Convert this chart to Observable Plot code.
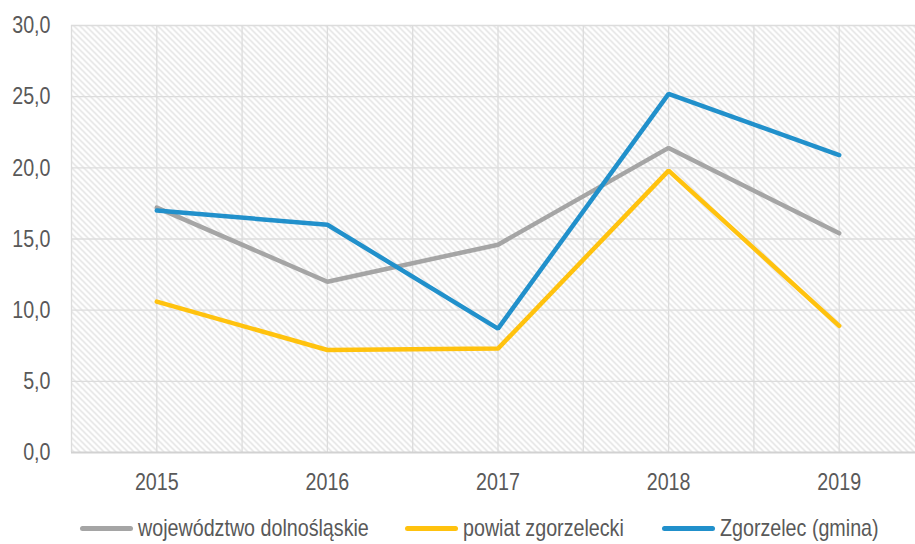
<!DOCTYPE html>
<html>
<head>
<meta charset="utf-8">
<script src="https://cdn.jsdelivr.net/npm/d3@7"></script>
<script src="https://cdn.jsdelivr.net/npm/@observablehq/plot@0.6"></script>
<style>
  html, body { margin: 0; padding: 0; background: #fff; overflow: hidden; width: 915px; height: 544px; }
  #wrap { position: relative; width: 915px; height: 544px; overflow: hidden; font-family: "Liberation Sans", Arial, sans-serif; }
  #chart { width: 924px; }
  #legend { position: absolute; top: 514px; left: 0; width: 915px; height: 30px; font-size: 24px; color: #595959; }
  .item { position: absolute; top: 0; display: flex; align-items: center; height: 28px; white-space: nowrap; }
  .sw { width: 53px; height: 5px; border-radius: 3px; margin-right: 5px; flex: none; }
  .tx { display: inline-block; transform: scaleX(0.82); transform-origin: left center; }
</style>
</head>
<body>
<div id="wrap">
  <div id="chart"></div>
  <div id="legend"></div>
</div>
<script>
const years = [2015, 2016, 2017, 2018, 2019];
const seriesNames = ["województwo dolnośląskie", "powiat zgorzelecki", "Zgorzelec (gmina)"];
const wojewodztwo = [17.2, 12.0, 14.6, 21.4, 15.4];
const powiat = [10.6, 7.2, 7.3, 19.8, 8.9];
const gmina = [17.0, 16.0, 8.7, 25.2, 20.9];
const colors = ["#a5a5a5", "#ffc20e", "#2190cb"];
const yTicks = [0, 5, 10, 15, 20, 25, 30];

const seriesValues = [wojewodztwo, powiat, gmina];
const data = [];
seriesNames.forEach((name, i) => {
  years.forEach((yr, j) => data.push({series: name, year: yr, value: seriesValues[i][j]}));
});

const halfSteps = d3.range(years[0] - 0.5, years[years.length - 1] + 0.51, 0.5);

const plot = Plot.plot({
  width: 924,
  height: 500,
  marginLeft: 71,
  marginRight: 0,
  marginTop: 25,
  marginBottom: 48,
  style: {fontFamily: '"Liberation Sans", Arial, sans-serif', fontSize: "24px", color: "#595959", background: "transparent", overflow: "visible"},
  x: {domain: [years[0] - 0.5, years[years.length - 1] + 0.5], label: null},
  y: {domain: [0, 30], label: null},
  color: {domain: seriesNames, range: colors},
  marks: [
    Plot.frame({fill: "url(#hatch)", stroke: null}),
    Plot.ruleX(halfSteps, {stroke: "#dcdcdc", strokeWidth: 1.3}),
    Plot.ruleY(yTicks.filter(d => d > 0), {stroke: "#dcdcdc", strokeWidth: 1.3}),
    Plot.ruleY([0], {stroke: "#d2d2d2", strokeWidth: 2}),
    Plot.axisY(yTicks, {tickSize: 0, tickPadding: 21, label: null, tickFormat: d => d.toFixed(1).replace(".", ","), fill: "#595959"}),
    Plot.axisX(years, {tickSize: 0, tickPadding: 20, label: null, tickFormat: d => String(d), fill: "#595959"}),
    Plot.line(data, {x: "year", y: "value", z: "series", stroke: "series", strokeWidth: 4.5, strokeLinejoin: "miter", strokeLinecap: "round"})
  ]
});

// hatch pattern defs
const ns = "http://www.w3.org/2000/svg";
const defs = document.createElementNS(ns, "defs");
defs.innerHTML = '<pattern id="hatch" patternUnits="userSpaceOnUse" width="6" height="6">' +
  '<rect width="6" height="6" fill="#ffffff"/>' +
  '<path d="M-1,-1 L7,7 M-1,5 L1,7 M5,-1 L7,1" stroke="#dedede" stroke-width="1.3"/>' +
  '</pattern>';
plot.insertBefore(defs, plot.firstChild);
plot.style.display = "block";
plot.style.maxWidth = "none";
plot.style.width = "924px";
plot.style.height = "500px";

// condense axis labels horizontally (narrow face look), scaling about each label's anchor
plot.querySelectorAll('g[aria-label="y-axis tick label"] text, g[aria-label="x-axis tick label"] text').forEach(t => {
  const xa = parseFloat(t.getAttribute("x"));
  const x = isFinite(xa) ? xa : 0;
  const tr = t.getAttribute("transform") || "";
  t.setAttribute("transform", `${tr} translate(${x},0) scale(0.82,1) translate(${-x},0)`);
});
document.getElementById("chart").appendChild(plot);

// legend
const legendLeft = [80, 405, 662];
const legend = document.getElementById("legend");
seriesNames.forEach((name, i) => {
  const it = document.createElement("div");
  it.className = "item";
  it.style.left = legendLeft[i] + "px";
  const sw = document.createElement("div");
  sw.className = "sw";
  sw.style.background = colors[i];
  const tx = document.createElement("span");
  tx.className = "tx";
  tx.textContent = name;
  it.appendChild(sw);
  it.appendChild(tx);
  legend.appendChild(it);
});
</script>
</body>
</html>
